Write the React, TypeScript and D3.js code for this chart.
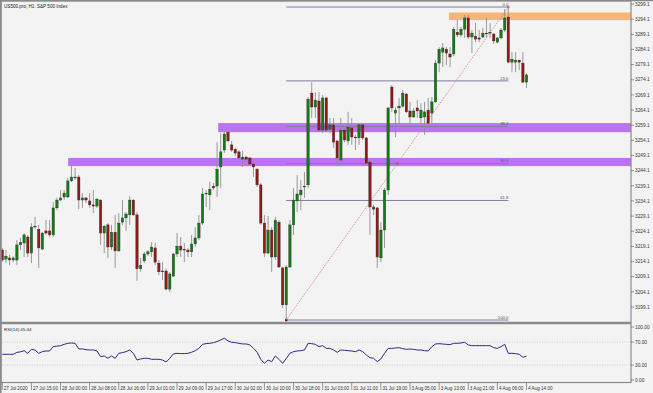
import React from "react";
import * as d3 from "d3";

const opens = [3217.9,3214.9,3215.3,3214.6,3214.6,3219.6,3220.2,3222.2,3216.9,3225.5,
3224.8,3218.2,3224.2,3224.2,3222.9,3231.8,3234.4,3235.4,3235.4,3240.7,
3241.7,3242.0,3234.4,3235.1,3234.1,3232.8,3232.4,3234.4,3223.5,3226.2,
3218.9,3223.8,3217.6,3227.1,3228.5,3229.5,3234.4,3229.5,3211.7,3214.3,
3216.6,3217.3,3218.6,3213.6,3211.0,3211.0,3205.0,3209.3,3216.6,3219.2,
3218.2,3217.9,3217.3,3219.9,3221.9,3226.8,3236.4,3236.1,3239.0,3239.0,
3245.3,3250.9,3256.8,3252.6,3251.2,3250.3,3247.9,3248.6,3248.3,3246.3,
3244.6,3239.4,3226.8,3216.9,3224.5,3215.6,3227.1,3212.0,3199.8,3212.3,
3226.2,3234.1,3236.1,3238.7,3239.4,3269.7,3265.1,3267.1,3257.5,3268.1,
3257.8,3259.2,3253.9,3247.6,3257.5,3253.9,3258.2,3255.2,3254.9,3259.2,
3254.9,3246.9,3232.1,3231.8,3215.3,3224.5,3237.7,3271.7,3263.1,3264.8,
3265.4,3269.4,3263.8,3261.8,3264.8,3261.5,3261.8,3264.1,3263.1,3266.8,
3279.6,3283.2,3284.2,3282.6,3282.6,3289.8,3288.9,3290.8,3294.5,3288.2,
3288.5,3287.9,3288.2,3289.5,3289.8,3289.2,3286.5,3287.9,3290.5,3294.8,
3279.9,3279.9,3280.6,3279.6,3273.3];

const highs = [3218.6,3217.9,3216.3,3215.9,3221.2,3221.9,3223.5,3222.9,3226.8,3228.8,
3226.2,3223.8,3227.8,3227.8,3233.8,3235.1,3237.7,3237.7,3241.7,3245.9,
3245.0,3242.7,3236.7,3235.4,3236.7,3237.7,3235.1,3234.7,3226.2,3226.8,
3226.2,3229.5,3230.1,3234.4,3230.4,3235.7,3234.7,3230.4,3215.3,3217.3,
3217.9,3220.5,3220.2,3214.6,3213.9,3211.7,3210.7,3216.9,3223.5,3222.2,
3220.2,3218.6,3222.9,3225.5,3229.5,3238.4,3237.7,3240.4,3240.0,3253.5,
3256.5,3256.8,3257.2,3253.9,3251.6,3250.9,3250.6,3248.9,3248.6,3246.9,
3245.0,3240.0,3229.5,3229.1,3225.5,3228.8,3227.8,3212.3,3212.9,3227.8,
3238.4,3242.7,3241.0,3243.7,3268.4,3273.3,3270.0,3270.0,3269.1,3268.4,
3261.5,3261.5,3254.2,3261.5,3258.2,3263.5,3261.5,3255.9,3259.8,3259.5,
3255.2,3247.6,3232.8,3232.1,3227.1,3238.4,3265.1,3272.3,3265.1,3268.1,
3270.7,3269.7,3266.8,3264.8,3267.4,3266.4,3266.8,3268.1,3268.4,3280.6,
3284.9,3286.2,3284.9,3284.9,3291.5,3293.8,3291.5,3295.5,3295.5,3290.5,
3292.8,3290.5,3291.2,3294.5,3292.8,3289.5,3288.2,3291.2,3297.4,3298.1,
3283.2,3283.2,3280.6,3283.2,3276.3];

const lows = [3213.9,3213.6,3212.9,3213.9,3212.9,3217.9,3215.6,3215.6,3213.6,3224.8,
3212.0,3217.9,3222.9,3222.2,3222.2,3231.1,3234.1,3234.4,3235.1,3240.4,
3241.0,3231.4,3231.8,3233.4,3231.8,3230.1,3231.8,3219.6,3216.9,3215.3,
3217.9,3212.0,3217.3,3226.2,3224.2,3226.2,3229.1,3207.7,3210.7,3213.6,
3215.9,3215.6,3212.9,3209.7,3208.0,3204.7,3204.0,3209.0,3215.6,3215.6,
3213.9,3215.6,3215.6,3218.9,3221.2,3226.2,3232.1,3231.1,3237.7,3235.4,
3238.4,3249.9,3253.5,3250.3,3248.9,3247.6,3245.3,3246.9,3245.9,3242.0,
3238.7,3226.2,3215.6,3216.6,3210.7,3214.6,3212.0,3198.8,3194.8,3212.0,
3222.9,3230.4,3231.1,3235.1,3238.4,3261.5,3261.5,3256.8,3256.5,3256.8,
3256.5,3251.6,3245.9,3246.9,3253.5,3252.6,3252.6,3250.9,3252.6,3254.2,
3245.9,3222.9,3229.5,3212.0,3213.9,3218.6,3236.1,3263.5,3255.2,3259.2,
3264.8,3263.1,3259.2,3261.5,3261.5,3259.8,3255.9,3258.2,3259.2,3266.4,
3276.6,3278.3,3278.9,3278.3,3281.9,3288.2,3288.2,3287.9,3287.5,3282.9,
3286.5,3286.5,3287.9,3287.9,3287.9,3285.9,3286.2,3287.5,3289.8,3279.6,
3276.6,3276.6,3277.3,3273.0,3271.4];

const closes = [3214.6,3215.9,3214.6,3215.3,3219.6,3220.5,3222.9,3216.9,3225.5,3225.8,
3218.6,3223.5,3223.5,3222.9,3231.8,3234.4,3235.1,3236.7,3240.7,3242.0,
3242.0,3234.4,3235.1,3234.4,3232.8,3232.4,3234.7,3223.5,3225.8,3218.9,
3223.8,3217.6,3226.8,3228.5,3229.8,3234.4,3229.5,3211.7,3212.9,3216.6,
3217.3,3218.9,3213.9,3210.7,3210.7,3205.0,3210.0,3216.6,3219.2,3217.9,
3217.9,3217.3,3219.9,3221.9,3226.8,3236.4,3236.7,3238.0,3238.4,3244.6,
3250.3,3256.2,3253.9,3250.9,3249.9,3248.3,3248.6,3247.9,3246.3,3245.3,
3239.4,3226.8,3216.9,3224.5,3215.6,3227.8,3212.3,3199.8,3212.3,3226.2,
3234.4,3236.4,3237.7,3239.0,3267.7,3265.1,3267.4,3257.5,3268.1,3257.5,
3259.2,3253.5,3248.3,3257.5,3254.2,3258.5,3255.2,3254.9,3259.2,3254.9,
3246.6,3232.1,3231.4,3215.6,3224.5,3237.7,3264.8,3264.8,3264.1,3265.4,
3269.7,3263.5,3261.8,3263.8,3263.8,3264.1,3263.5,3259.8,3266.8,3279.6,
3284.2,3284.6,3282.9,3281.6,3290.8,3288.9,3290.8,3294.5,3288.2,3289.5,
3287.5,3287.5,3289.5,3289.2,3289.5,3286.9,3287.9,3290.5,3294.5,3279.9,
3280.9,3280.6,3279.9,3273.3,3275.7];

const rsiValues = [48.7,48.7,48.7,48.7,52,53,55,50.4,57.4,56.2,
50.4,53.3,54.5,54.5,62,63,63.7,66,67.8,68.4,
67.8,58,58,56.8,56.2,56.2,54.5,44.6,45.8,41.7,
45.8,41.7,50.4,51.6,53.3,56.2,50.4,38.8,40.6,41.7,
41.7,40,40,40,38.8,35.3,41.7,49.3,50.4,49.9,
49.9,50.4,52.2,55,59.1,66,67.3,67.8,69,70.8,
73.7,76.6,72,69.6,69,67.8,66.7,66.7,65,59.1,
52.2,40,33,38.8,35.9,45.8,40,33,41.2,50.4,
53.3,54.5,55,56.2,67.8,67.2,66,62,63.7,59,
59,56.2,52.2,56.2,55.6,55,54.4,53.3,56.2,53.3,
47.5,42.8,41.7,35.9,40.6,50.4,59,59,59.6,60.2,
58.5,57.3,57.9,57.3,56.2,56.2,55,54.4,62,66.6,
67.2,66.6,66,65.4,67.8,67.8,68.4,69.6,65,63.7,
63.7,63.7,63.7,63.7,63.7,60.2,59,62,66,50.4,
50.4,49.8,48.7,43.5,45.44];

const timeLabels = ["27 Jul 2020","27 Jul 15:00","28 Jul 00:00","28 Jul 08:00","28 Jul 16:00","29 Jul 01:00","29 Jul 09:00","29 Jul 17:00","30 Jul 02:00","30 Jul 10:00","30 Jul 18:00","31 Jul 03:00","31 Jul 11:00","31 Jul 19:00","3 Aug 05:00","3 Aug 13:00","3 Aug 21:00","4 Aug 06:00","4 Aug 14:00"];
const timeLabelStep = 8;

const priceTicks = d3.range(0, 21).map((k) => +(3199.1 + 5 * k).toFixed(1));
const rsiTicks = [100, 70, 30, 0];

const fibLevels = [0, 23.6, 38.2, 50, 61.8, 100];
const fibLowBar = 78;
const fibHighBar = 139;

// zones: [startBar, priceLow, priceHigh]
const orangeZone = [122.7, 3293.8, 3296.3];
const purpleZones = [
  [59.3, 3256.8, 3259.8],
  [18.1, 3245.6, 3248.3],
];

const title = "US500.pro, H1: S&P 500 Index";
const rsiTitle = "RSI(14) 45.44";

const W = 653;
const H = 393;
const AXIS_X = 631;

export default function App() {
  const x = d3.scaleLinear().domain([0, 144]).range([2.3, 526.5]);
  const y = d3.scaleLinear().domain([3199.1, 3299.1]).range([307, 4]);
  const ry = d3.scaleLinear().domain([0, 100]).range([382.3, 324.8]);

  const bodyW = 2.5;
  const green = "#167816";
  const red = "#8f1a1a";
  const wick = "#8e8e8e";

  const fibHigh = highs[fibHighBar];
  const fibLow = lows[fibLowBar];
  const fx1 = x(fibLowBar);
  const fx2 = x(fibHighBar);

  const rsiLine = d3
    .line<number>()
    .x((_, i) => x(i))
    .y((d) => ry(d));

  const font = "'Liberation Sans', Arial, sans-serif";

  return (
    <div style={{ position: "absolute", left: 0, top: 0 }}>
      <svg width={W} height={H} style={{ display: "block" }} fontFamily={font}>
        <rect x={0} y={0} width={W} height={H} fill="#f3f3f3" />

        {/* zones */}
        <rect
          x={x(orangeZone[0])}
          y={y(orangeZone[2])}
          width={AXIS_X - x(orangeZone[0])}
          height={y(orangeZone[1]) - y(orangeZone[2])}
          fill="#f9a860"
          opacity={0.85}
        />
        {purpleZones.map((z, i) => (
          <rect
            key={i}
            x={x(z[0])}
            y={y(z[2])}
            width={AXIS_X - x(z[0])}
            height={y(z[1]) - y(z[2])}
            fill="#b25cf2"
            opacity={0.85}
          />
        ))}

        {/* fib lines */}
        {fibLevels.map((lv) => {
          const p = fibHigh - ((fibHigh - fibLow) * lv) / 100;
          return (
            <g key={lv}>
              <line x1={fx1} x2={fx2} y1={y(p)} y2={y(p)} stroke="#807ca0" strokeWidth={1} />
              <text x={fx2} y={y(p) - 1.2} fontSize={4.2} fill="#555" textAnchor="end">
                {lv.toFixed(1)}
              </text>
            </g>
          );
        })}
        <line
          x1={fx1}
          y1={y(fibLow)}
          x2={fx2}
          y2={y(fibHigh)}
          stroke="#d9706e"
          strokeWidth={0.8}
          strokeDasharray="1.2,1"
        />
        <rect x={fx1 - 1.2} y={y(fibLow) - 1.2} width={2.4} height={2.4} fill="#7a1010" />
        <rect x={fx2 - 1.2} y={y(fibHigh) - 1.2} width={2.4} height={2.4} fill="#d9706e" />
        <rect
          x={(fx1 + fx2) / 2 - 1}
          y={(y(fibLow) + y(fibHigh)) / 2 - 1}
          width={2}
          height={2}
          fill="#b04848"
        />

        {/* candles */}
        {opens.map((o, i) => {
          const c = closes[i];
          const up = c >= o;
          const top = y(Math.max(o, c));
          const bot = y(Math.min(o, c));
          return (
            <g key={i}>
              <line x1={x(i)} x2={x(i)} y1={y(highs[i])} y2={y(lows[i])} stroke={wick} strokeWidth={0.9} />
              <rect
                x={x(i) - bodyW / 2}
                y={top}
                width={bodyW}
                height={Math.max(0.8, bot - top)}
                fill={up ? green : red}
                stroke="#2a2a2a"
                strokeWidth={0.3}
              />
            </g>
          );
        })}

        {/* RSI */}
        {[70, 30].map((v) => (
          <line key={v} x1={2} x2={AXIS_X} y1={ry(v)} y2={ry(v)} stroke="#b5b5b5" strokeWidth={0.6} strokeDasharray="1,1.5" />
        ))}
        <path d={rsiLine(rsiValues) || ""} fill="none" stroke="#2b2b85" strokeWidth={1} />

        {/* frames */}
        <rect x={1} y={1} width={AXIS_X - 1} height={381.5} fill="none" stroke="#8a8a8a" strokeWidth={1.2} />
        <line x1={1} x2={AXIS_X} y1={323} y2={323} stroke="#8a8a8a" strokeWidth={2.4} />
        <line x1={0.8} x2={0.8} y1={0} y2={H} stroke="#8a8a8a" strokeWidth={1.6} />
        <line x1={0} x2={W} y1={0.6} y2={0.6} stroke="#8a8a8a" strokeWidth={1.2} />

        {/* price axis */}
        {priceTicks.map((t) => (
          <g key={t}>
            <line x1={AXIS_X} x2={AXIS_X + 3} y1={y(t)} y2={y(t)} stroke="#555" strokeWidth={0.6} />
            <text x={AXIS_X + 4} y={y(t) + 1.7} fontSize={4.8} fill="#333">
              {t.toFixed(1)}
            </text>
          </g>
        ))}
        {rsiTicks.map((t) => {
          const yy = Math.min(380, Math.max(327, ry(t)));
          return (
            <g key={t}>
              <line x1={AXIS_X} x2={AXIS_X + 3} y1={yy} y2={yy} stroke="#555" strokeWidth={0.6} />
              <text x={AXIS_X + 4} y={yy + 1.7} fontSize={4.8} fill="#333">
                {t.toFixed(2)}
              </text>
            </g>
          );
        })}

        {/* time axis */}
        {timeLabels.map((lab, k) => {
          const xx = x(k * timeLabelStep);
          return (
            <g key={lab}>
              <line x1={xx} x2={xx} y1={382.5} y2={390} stroke="#555" strokeWidth={0.6} />
              <text x={xx + 1.5} y={389.5} fontSize={4.6} fill="#333">
                {lab}
              </text>
            </g>
          );
        })}

        <text x={4} y={8} fontSize={4.6} fill="#222">
          {title}
        </text>
        <text x={4} y={330.5} fontSize={4.4} fill="#222">
          {rsiTitle}
        </text>
      </svg>
    </div>
  );
}
